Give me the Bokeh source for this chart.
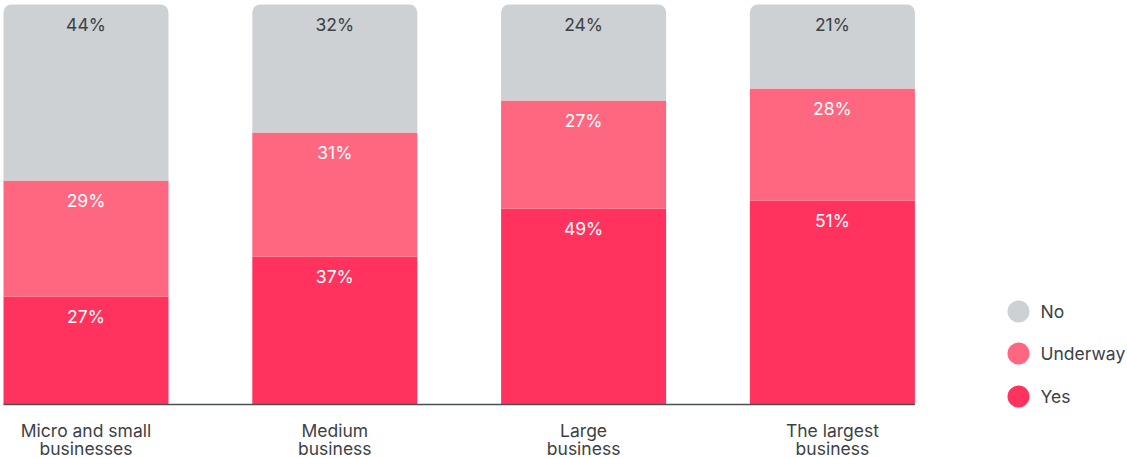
from bokeh.plotting import figure
from bokeh.models import ColumnDataSource, Range1d
from bokeh.core.properties import value
from bokeh.embed import file_html
from bokeh.resources import INLINE

categories = ["Micro and small\nbusinesses", "Medium\nbusiness", "Large\nbusiness", "The largest\nbusiness"]
yes = [27, 37, 49, 51]
underway = [29, 31, 27, 28]
no = [44, 32, 24, 21]
series = ["No", "Underway", "Yes"]

colors = {"Yes": "#FF335E", "Underway": "#FF6680", "No": "#CDD1D4"}
text_colors = {"Yes": "white", "Underway": "white", "No": "#3C4146"}
FONT = "Inter"
FS = "17.5px"

W, H = 1127, 458
ppu = 248.8            # pixels per category unit
x_start = -85.5 / ppu
px_per_pct = 4.0
bar_w = 165 / ppu
y_top = 101
y_bottom = y_top - H / px_per_pct

p = figure(width=W, height=H,
           x_range=Range1d(x_start, x_start + W / ppu),
           y_range=Range1d(y_bottom, y_top),
           output_backend="svg", toolbar_location=None,
           min_border_left=0, min_border_right=0, min_border_top=0, min_border_bottom=0)
p.outline_line_color = None
p.xgrid.visible = False
p.ygrid.visible = False
p.yaxis.visible = False
p.xaxis.visible = False
p.background_fill_color = "white"
p.border_fill_color = "white"

xs = list(range(len(categories)))
yes_top = [a for a in yes]
und_top = [a + b for a, b in zip(yes, underway)]
no_top = [a + b + c for a, b, c in zip(yes, underway, no)]

line1 = [c.split("\n")[0] for c in categories]
line2 = [c.split("\n")[1] if "\n" in c else "" for c in categories]

src = ColumnDataSource(dict(x=xs, l1=line1, l2=line2,
                            yes_top=yes_top, und_top=und_top, no_top=no_top,
                            yes_lbl=[f"{v}%" for v in yes],
                            und_lbl=[f"{v}%" for v in underway],
                            no_lbl=[f"{v}%" for v in no]))

p.vbar(x="x", bottom=0, top="yes_top", width=bar_w, source=src,
       fill_color=colors["Yes"], line_color=None)
p.vbar(x="x", bottom="yes_top", top="und_top", width=bar_w, source=src,
       fill_color=colors["Underway"], line_color=None)
p.vbar(x="x", bottom="und_top", top="no_top", width=bar_w, source=src,
       fill_color=colors["No"], line_color=None, border_radius=(8, 8, 0, 0))

for top, lbl, key in [("yes_top", "yes_lbl", "Yes"), ("und_top", "und_lbl", "Underway"), ("no_top", "no_lbl", "No")]:
    p.text(x="x", y=top, text=lbl, source=src, y_offset=20,
           text_align="center", text_baseline="middle",
           text_font=value(FONT), text_font_size=FS, text_color=text_colors[key])

# baseline
p.segment(x0=[xs[0] - bar_w / 2], y0=[0], x1=[xs[-1] + bar_w / 2], y1=[0],
          line_color="#4A4F54", line_width=1.5)

# category labels (two lines)
for col, off in [("l1", 26), ("l2", 44)]:
    p.text(x="x", y=0, text=col, source=src, y_offset=off,
           text_align="center", text_baseline="middle",
           text_font=value(FONT), text_font_size=FS, text_color="#3C4146")

# legend (manual)
leg_x = x_start + 1018 / ppu
leg_sy = [311, 353, 396]
leg_y = [(404 - s) / px_per_pct for s in leg_sy]
lsrc = ColumnDataSource(dict(x=[leg_x] * 3, y=leg_y, c=[colors[s] for s in series], t=series,
                             tx=[leg_x + 22 / ppu] * 3))
p.scatter(x="x", y="y", size=22, fill_color="c", line_color=None, source=lsrc)
p.text(x="tx", y="y", text="t", source=lsrc, text_baseline="middle", text_align="left",
       text_font=value(FONT), text_font_size=FS, text_color="#3C4146")

open("out.html", "w").write(file_html(p, INLINE))
